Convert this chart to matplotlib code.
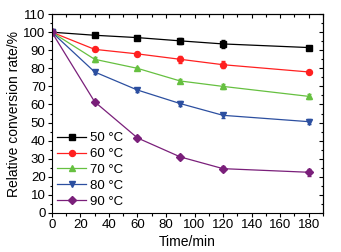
import matplotlib
matplotlib.use("Agg")
import matplotlib.pyplot as plt
from matplotlib.ticker import MultipleLocator

plt.rcParams['font.family'] = ['Liberation Sans', 'DejaVu Sans']

#### Data
time = [0, 30, 60, 90, 120, 180]
labels = ['50 °C', '60 °C', '70 °C', '80 °C', '90 °C']
rate_50 = [100, 98.3, 97.0, 95.2, 93.5, 91.5]
rate_60 = [100, 90.5, 88.0, 85.0, 82.0, 78.0]
rate_70 = [100, 85.0, 80.0, 73.0, 70.0, 64.5]
rate_80 = [100, 78.0, 68.0, 60.5, 54.0, 50.5]
rate_90 = [100, 61.5, 41.5, 31.0, 24.5, 22.5]
err_50 = [0, 1.2, 1.0, 1.8, 2.0, 0.8]
err_60 = [0, 1.0, 0.8, 1.8, 1.8, 0.8]
err_70 = [0, 1.5, 1.0, 1.2, 1.5, 1.2]
err_80 = [0, 1.2, 1.0, 1.5, 1.5, 1.5]
err_90 = [0, 1.0, 0.8, 1.0, 1.2, 2.0]

series = [rate_50, rate_60, rate_70, rate_80, rate_90]
errors = [err_50, err_60, err_70, err_80, err_90]
colors = ['#000000', '#ff2020', '#66c040', '#2c4fa0', '#7a1f7a']
markers = ['s', 'o', '^', 'v', 'D']

fig = plt.figure(figsize=(3.41, 2.52), dpi=100)
ax = fig.add_axes([0.152, 0.155, 0.795, 0.789])

handles = []
for y, e, c, m, lab in zip(series, errors, colors, markers, labels):
   cont = ax.errorbar(time, y, yerr=e, color=c, marker=m, markersize=4.3 if m != 'D' else 3.8,
                      lw=0.9, elinewidth=0.8, capsize=1.5, label=lab)
   handles.append(cont.lines[0])

ax.set_xlim(0, 190)
ax.set_ylim(0, 110)
ax.xaxis.set_major_locator(MultipleLocator(20))
ax.xaxis.set_minor_locator(MultipleLocator(10))
ax.yaxis.set_major_locator(MultipleLocator(10))
ax.yaxis.set_minor_locator(MultipleLocator(5))
ax.tick_params(which='both', direction='out', labelsize=9.5, width=0.8, pad=1.5)
ax.tick_params(which='major', length=3)
ax.tick_params(which='minor', length=1.8)
for s in ax.spines.values():
   s.set_linewidth(0.8)

# mirrored inward ticks on top/right
axt = ax.secondary_xaxis('top')
axt.xaxis.set_major_locator(MultipleLocator(20))
axt.xaxis.set_minor_locator(MultipleLocator(10))
axt.tick_params(which='both', direction='in', labeltop=False, width=0.8)
axt.tick_params(which='major', length=3)
axt.tick_params(which='minor', length=1.8)
axr = ax.secondary_yaxis('right')
axr.yaxis.set_major_locator(MultipleLocator(10))
axr.yaxis.set_minor_locator(MultipleLocator(5))
axr.tick_params(which='both', direction='in', labelright=False, width=0.8)
axr.tick_params(which='major', length=3)
axr.tick_params(which='minor', length=1.8)

ax.set_xlabel('Time/min', fontsize=10, labelpad=3)
ax.set_ylabel('Relative conversion rate/%', fontsize=10, labelpad=2)

ax.legend(handles, labels, loc='lower left', frameon=False, fontsize=9.5, handlelength=2.2,
          handletextpad=0.3, labelspacing=0.27, borderaxespad=0.1, borderpad=0.3)

fig.savefig('out.png', dpi=100)
